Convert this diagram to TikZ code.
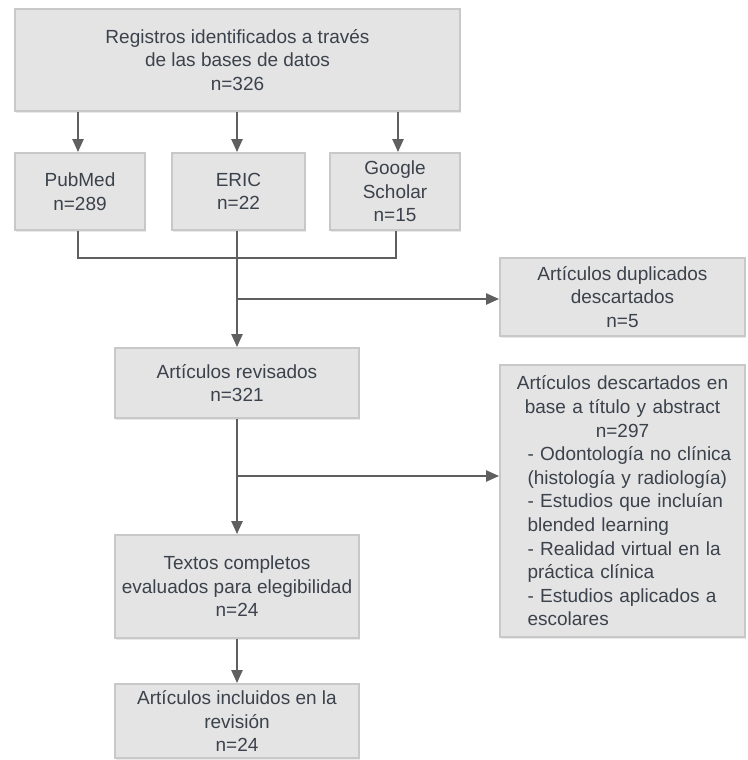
\documentclass[tikz,border=0pt]{standalone}
\usepackage{fontspec}
\setmainfont{Liberation Sans}
\usetikzlibrary{positioning, calc, arrows.meta, shadows}
\definecolor{boxfill}{HTML}{E4E4E4}
\definecolor{boxline}{HTML}{C8C8C8}
\definecolor{linegray}{HTML}{5F5F5F}
\definecolor{textgray}{HTML}{3B424C}

\begin{document}
\begin{tikzpicture}[x=1pt, y=-1pt,
    box/.style={draw=boxline, line width=1.8pt, fill=boxfill, text=textgray,
        align=center, inner sep=0pt, font=\fontsize{19}{23.6}\selectfont,
        drop shadow={opacity=0.18, shadow xshift=1pt, shadow yshift=-1.5pt}},
    link/.style={draw=linegray, line width=2.2pt},
    flow/.style={link, -{Triangle[length=13pt, width=11pt]}}]
    \useasboundingbox (0,0) rectangle (747,760);

    %Identification
    \node[box, minimum width=445pt, minimum height=102pt] (reg) at (237.5,60)
        {Registros identificados a través\\de las bases de datos\\n=326};
    \node[box, minimum width=130pt, minimum height=77pt] (pubmed) at (80,191.5)
        {PubMed\\n=289};
    \node[box, minimum width=133pt, minimum height=77pt] (eric) at (238.5,191.5)
        {ERIC\\n=22};
    \node[box, minimum width=130pt, minimum height=77pt] (scholar) at (395,191.5)
        {Google\\Scholar\\n=15};
    \draw[flow] (reg.south -| 78,0) -- (pubmed.north -| 78,0);
    \draw[flow] (reg.south -| 237,0) -- (eric.north -| 237,0);
    \draw[flow] (reg.south -| 398,0) -- (scholar.north -| 398,0);

    %Screening
    \coordinate (join) at (237,258);
    \draw[link] (pubmed.south -| 78,0) -- (join -| 78,0) -- (join -| 396,0) -- (scholar.south -| 396,0);
    \draw[link] (eric.south -| join) -- (join);
    \node[box, minimum width=245pt, minimum height=78pt] (dup) at (622.5,297)
        {Artículos duplicados\\descartados\\n=5};
    \node[box, minimum width=244pt, minimum height=70pt] (rev) at (237,383)
        {Artículos revisados\\n=321};
    \coordinate (split1) at (237,299);
    \draw[flow] (join) -- (rev.north);
    \draw[flow] (split1) -- (split1 -| dup.west);

    %Eligibility
    \node[box, align=left, text width=222pt, minimum width=245pt, minimum height=272pt] (desc) at (622.5,501)
        {\centering Artículos descartados en\\base a título y abstract\\n=297\par
         \raggedright\leftskip=16pt - Odontología no clínica\\(histología y radiología)\\- Estudios que incluían\\blended learning\\- Realidad virtual en la\\práctica clínica\\- Estudios aplicados a\\escolares\par};
    \node[box, minimum width=244pt, minimum height=103pt] (full) at (237,586.5)
        {Textos completos\\evaluados para elegibilidad\\n=24};
    \coordinate (split2) at (237,476);
    \draw[flow] (rev.south) -- (full.north);
    \draw[flow] (split2) -- (split2 -| desc.west);

    %Included
    \node[box, minimum width=244pt, minimum height=74pt] (incl) at (237,721)
        {Artículos incluidos en la\\revisión\\n=24};
    \draw[flow] (full.south) -- (incl.north);
\end{tikzpicture}
\end{document}
